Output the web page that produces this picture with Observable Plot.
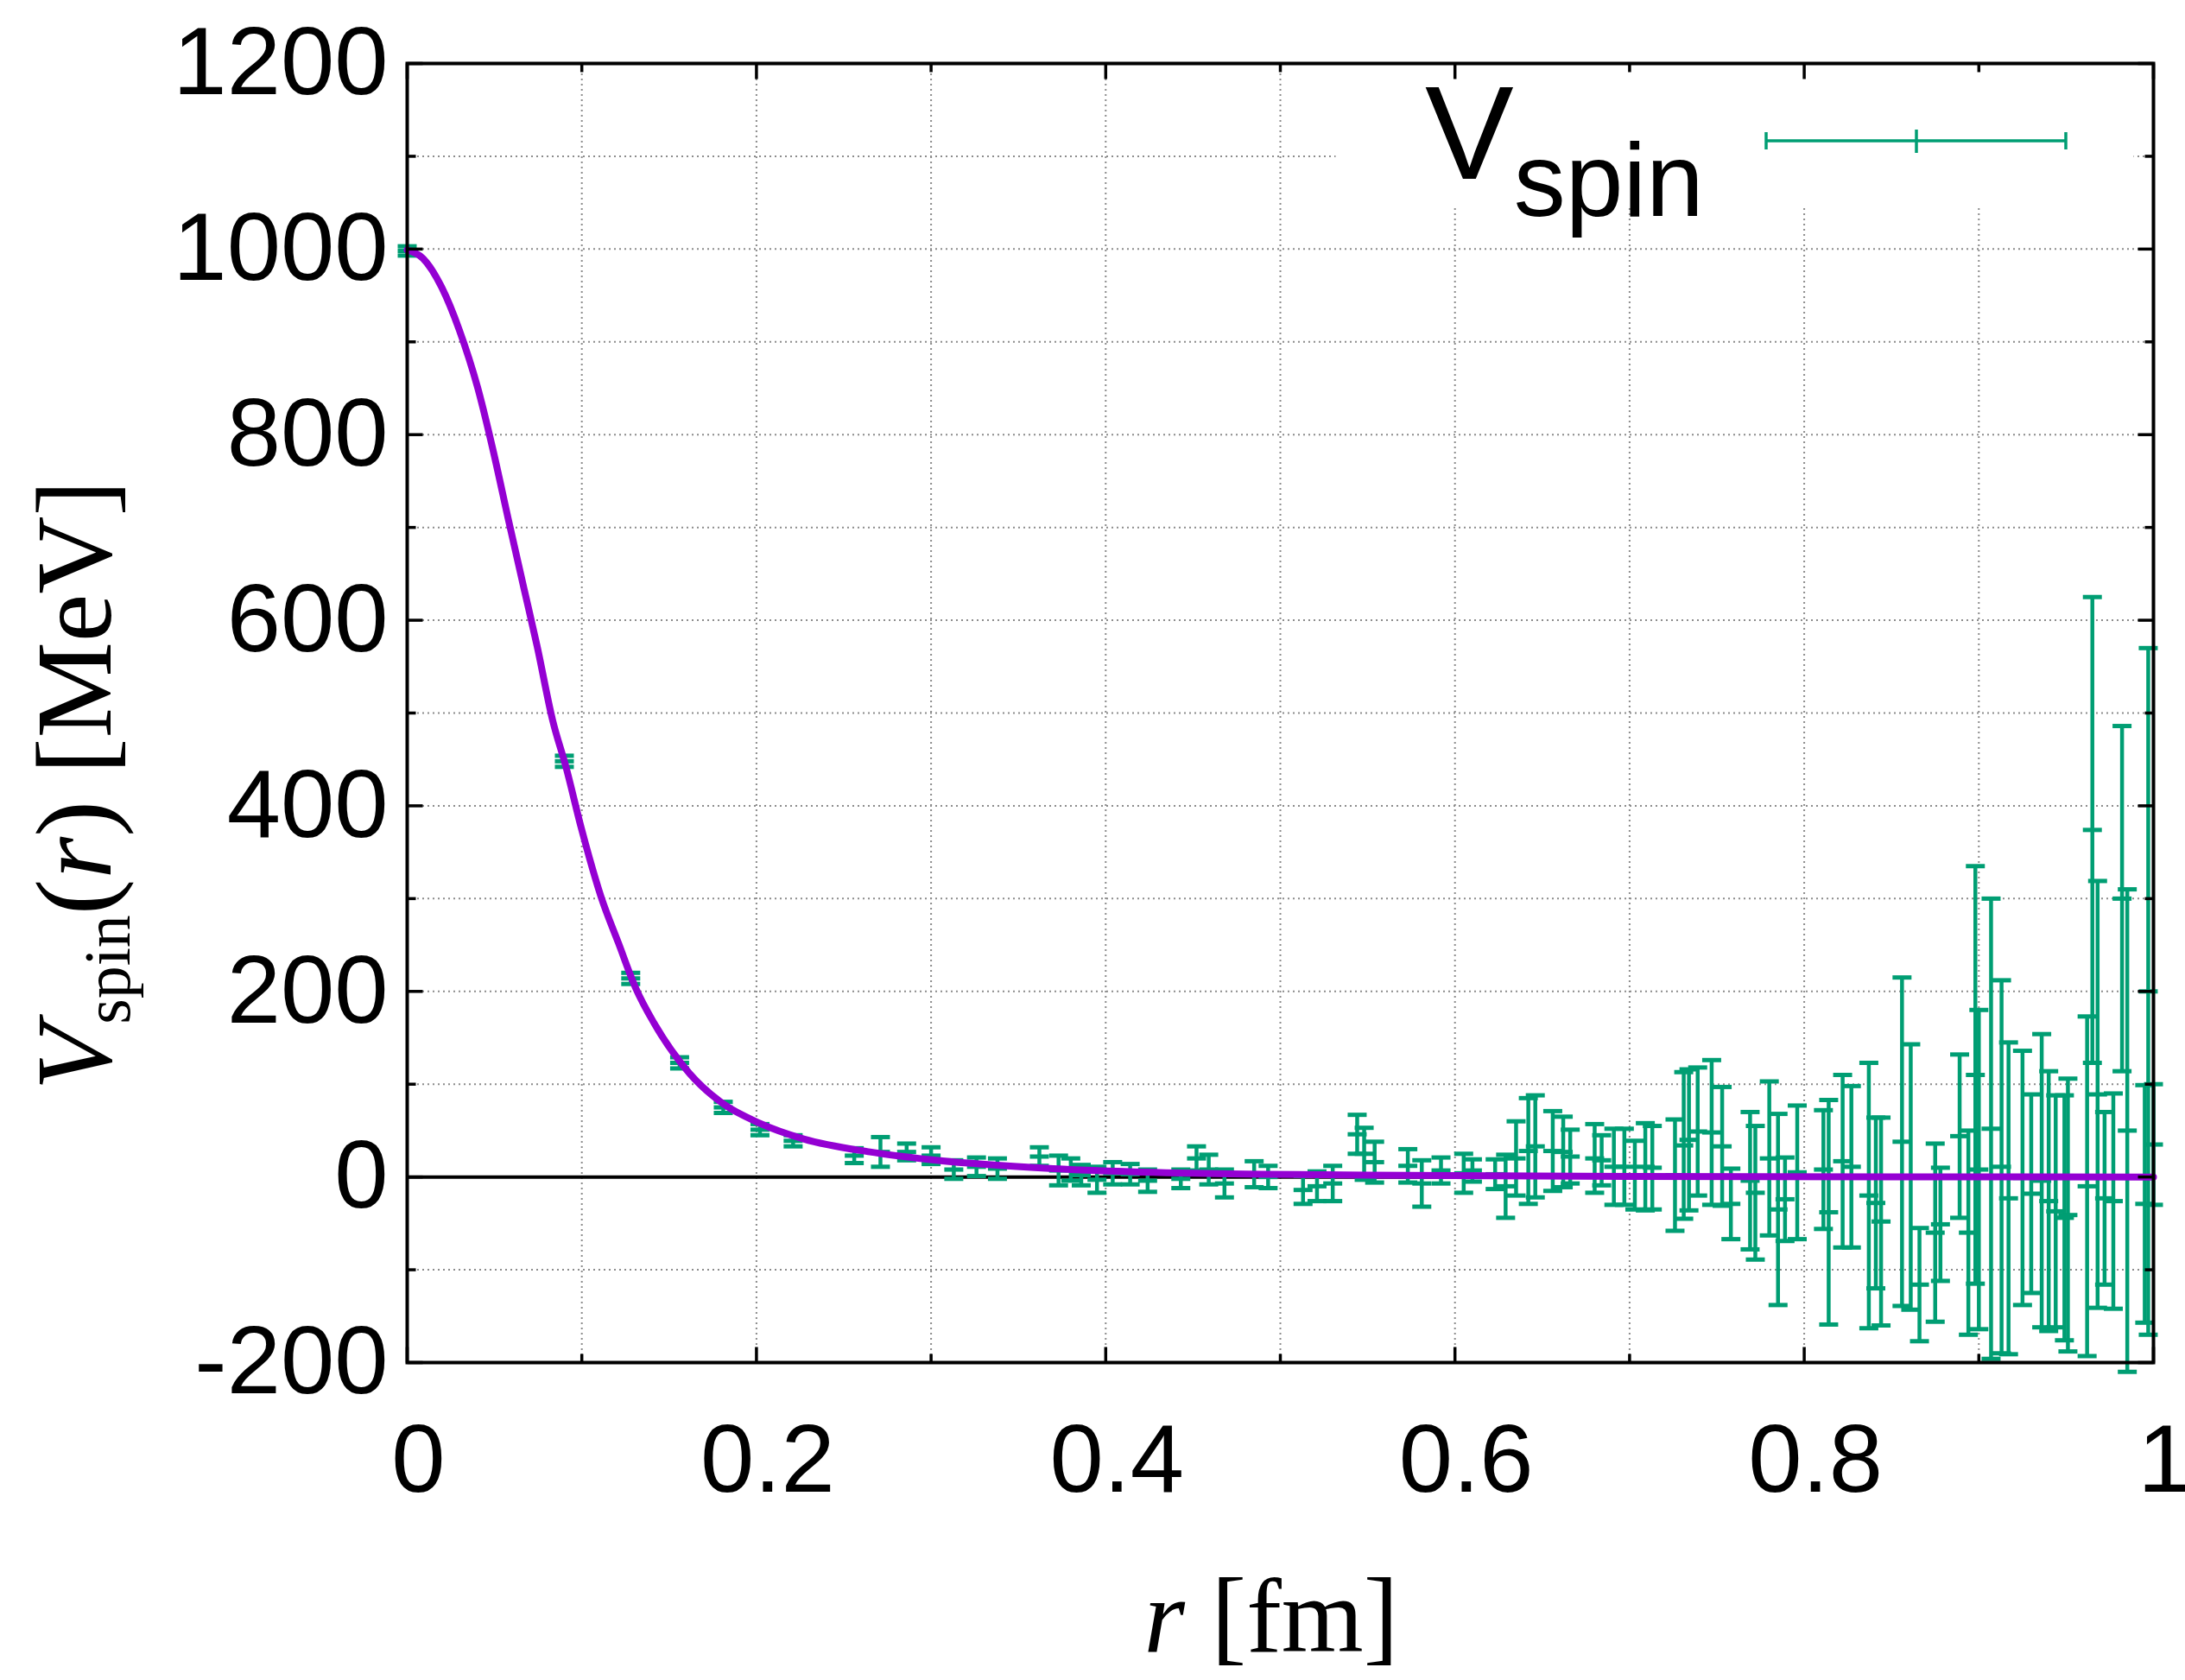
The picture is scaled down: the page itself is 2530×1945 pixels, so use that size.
<!DOCTYPE html>
<html>
<head>
<meta charset="utf-8">
<script src="https://cdn.jsdelivr.net/npm/d3@7"></script>
<script src="https://cdn.jsdelivr.net/npm/@observablehq/plot@0.6"></script>
<style>
  html, body { margin: 0; padding: 0; background: white; overflow: hidden; }
  #wrap { position: relative; width: 2530px; height: 1945px; }
</style>
</head>
<body>
<div id="wrap"></div>
<script>
// ---- data ----
const rVals = [0.000,0.090,0.128,0.156,0.181,0.202,0.221,0.256,0.271,0.286,0.300,0.313,0.326,0.338,0.362,0.373,0.380,0.386,0.395,0.404,0.414,0.424,0.443,0.452,0.459,0.468,0.485,0.493,0.513,0.521,0.530,0.544,0.548,0.554,0.573,0.581,0.592,0.605,0.610,0.623,0.629,0.635,0.642,0.646,0.656,0.662,0.666,0.680,0.684,0.691,0.697,0.703,0.709,0.713,0.726,0.731,0.734,0.739,0.747,0.753,0.758,0.769,0.772,0.780,0.785,0.789,0.796,0.811,0.814,0.822,0.827,0.837,0.841,0.844,0.856,0.861,0.866,0.875,0.878,0.889,0.894,0.898,0.900,0.907,0.913,0.917,0.925,0.930,0.936,0.940,0.944,0.949,0.951,0.962,0.965,0.968,0.972,0.977,0.982,0.985,0.995,0.997,1.000];
const vVals = [998,448,214,123,75,51,39,23,27,27,23,8,11,9,22,7,8,2,-3,4,3,-4,-2,20,8,-7,3,0,-14,-10,-7,46,25,16,12,-7,7,4,7,3,-10,20,28,33,28,27,22,20,18,11,11,2,11,10,2,34,40,49,48,33,-29,-4,-17,20,-35,-24,5,8,-38,17,11,-20,-28,-48,38,0,-116,-60,-51,44,-60,110,8,52,11,-23,-1,-18,-4,-26,-37,-44,-41,-10,374,89,-23,-26,300,50,-29,200,35];
const eVals = [5,6,6,6,6,6,6,8,16,9,9,10,10,11,10,16,12,11,14,12,11,12,10,13,16,15,14,12,15,16,19,21,28,22,18,25,14,21,12,16,34,40,57,55,43,38,29,37,27,41,41,37,47,45,60,79,76,69,78,64,38,74,72,83,103,45,72,64,121,93,87,143,92,112,177,143,61,96,61,88,110,225,172,248,201,168,137,107,158,140,125,132,147,183,251,230,93,116,186,260,128,370,65];

const curveR = [0,0.009,0.0197,0.0298,0.0403,0.0492,0.058,0.0669,0.0744,0.0833,0.0909,0.0997,0.111,0.121,0.131,0.1413,0.1615,0.1816,0.2018,0.227,0.265,0.303,0.37,0.45,0.55,0.7,0.85,1.0];
const curveV = [999,990,959,913,851,783,708,634,572,492,442,376,302,252,203,166,112,78,58,41,27,18,9,4,2,0.5,0.1,0];

const xTicks = [0,0.2,0.4,0.6,0.8,1];
const xTickLabels = ["0","0.2","0.4","0.6","0.8","1"];
const xMinor = [0.1,0.3,0.5,0.7,0.9];
const xGrid = [0.1,0.2,0.3,0.4,0.5,0.6,0.7,0.8,0.9];
const yTicks = [-200,0,200,400,600,800,1000,1200];
const yTickLabels = ["-200","0","200","400","600","800","1000","1200"];
const yMinor = [-100,100,300,500,700,900,1100];
const yGrid = [-100,0,100,200,300,400,500,600,700,800,900,1000,1100];

const seriesName = "V";
const seriesSub = "spin";

// ---- tables built from the arrays ----
const points = rVals.map((r, i) => ({r, v: vVals[i], e: eVals[i]}));
const curve = curveR.map((r, i) => ({r, v: curveV[i]}));

const green = "#009e73";
const purple = "#9400d3";

const hSym = {draw(ctx, size) { const l = Math.sqrt(size / Math.PI); ctx.moveTo(-l, 0); ctx.lineTo(l, 0); }};
const vSym = {draw(ctx, size) { const l = Math.sqrt(size / Math.PI); ctx.moveTo(0, -l); ctx.lineTo(0, l); }};

const gridStyle = {stroke: "#8c8c8c", strokeOpacity: 1, strokeWidth: 2, strokeDasharray: "2,4"};
const tickStyle = {fill: "none", stroke: "black", strokeWidth: 3.5};

const chart = Plot.plot({
  width: 2530,
  height: 1945,
  marginLeft: 471,
  marginRight: 37,
  marginTop: 73,
  marginBottom: 368,
  style: {background: "white", color: "black", fontFamily: "'Liberation Sans', Arial, Helvetica, sans-serif", fontSize: "112px"},
  x: {domain: [0, 1]},
  y: {domain: [-200, 1200]},
  marks: [
    Plot.gridX({ticks: xGrid, ...gridStyle}),
    Plot.gridY({ticks: yGrid, ...gridStyle}),
    Plot.frame({fill: "white", stroke: "none", insetLeft: 1075, insetRight: 23, insetBottom: 1340}),
    Plot.ruleY([0], {stroke: "black", strokeWidth: 4}),
    // error bars
    Plot.ruleX(points, {x: "r", y1: d => d.v - d.e, y2: d => d.v + d.e, stroke: green, strokeWidth: 4.5}),
    Plot.dot(points, {x: "r", y: d => d.v + d.e, symbol: hSym, r: 11, fill: "none", stroke: green, strokeWidth: 5}),
    Plot.dot(points, {x: "r", y: d => d.v - d.e, symbol: hSym, r: 11, fill: "none", stroke: green, strokeWidth: 5}),
    Plot.dot(points, {x: "r", y: "v", symbol: hSym, r: 11, fill: "none", stroke: green, strokeWidth: 5}),
    // fit curve
    Plot.line(curve, {x: "r", y: "v", stroke: purple, strokeWidth: 8, curve: "monotone-x"}),
    // frame and inward ticks
    Plot.frame({stroke: "black", strokeWidth: 4}),
    Plot.dot(yTicks, {y: d => d, frameAnchor: "left", symbol: hSym, r: 9, dx: 9, ...tickStyle}),
    Plot.dot(yTicks, {y: d => d, frameAnchor: "right", symbol: hSym, r: 9, dx: -9, ...tickStyle}),
    Plot.dot(yMinor, {y: d => d, frameAnchor: "left", symbol: hSym, r: 5, dx: 5, ...tickStyle}),
    Plot.dot(yMinor, {y: d => d, frameAnchor: "right", symbol: hSym, r: 5, dx: -5, ...tickStyle}),
    Plot.dot(xTicks, {x: d => d, frameAnchor: "bottom", symbol: vSym, r: 9, dy: -9, ...tickStyle}),
    Plot.dot(xTicks, {x: d => d, frameAnchor: "top", symbol: vSym, r: 9, dy: 9, ...tickStyle}),
    Plot.dot(xMinor, {x: d => d, frameAnchor: "bottom", symbol: vSym, r: 5, dy: -5, ...tickStyle}),
    Plot.dot(xMinor, {x: d => d, frameAnchor: "top", symbol: vSym, r: 5, dy: 5, ...tickStyle}),
    // tick labels
    Plot.axisY({ticks: yTicks, tickSize: 0, tickPadding: 22, label: null, fontSize: 112,
      tickFormat: d => yTickLabels[yTicks.indexOf(d)]}),
    Plot.axisX({ticks: xTicks, tickSize: 0, tickPadding: 70, label: null, fontSize: 112, dx: 13,
      tickFormat: d => xTickLabels[xTicks.indexOf(d)]})
  ]
});

const wrap = document.getElementById("wrap");
wrap.appendChild(chart);

// axis titles and key (text overlay)
const ns = "http://www.w3.org/2000/svg";
const overlay = document.createElementNS(ns, "svg");
overlay.setAttribute("width", 2530);
overlay.setAttribute("height", 1945);
overlay.setAttribute("style", "position:absolute;left:0;top:0;pointer-events:none");
overlay.innerHTML = `
  <g font-family="'Liberation Serif','Times New Roman',serif" fill="black">
    <text transform="translate(128,909) rotate(-90)" text-anchor="middle" font-size="125"><tspan font-style="italic">V</tspan><tspan font-size="76" dy="22">spin</tspan><tspan dy="-22">(</tspan><tspan font-style="italic">r</tspan><tspan>) [MeV]</tspan></text>
    <text x="1472" y="1912" text-anchor="middle" font-size="122"><tspan font-style="italic">r</tspan> [fm]</text>
  </g>
  <g font-family="'Liberation Sans',Arial,Helvetica,sans-serif" fill="black">
    <text x="1650" y="207" font-size="154">${seriesName}<tspan font-size="120" dy="43">${seriesSub}</tspan></text>
  </g>
  <g stroke="${green}" stroke-width="3.5" fill="none">
    <line x1="2045" y1="163" x2="2392" y2="163"/>
    <line x1="2045" y1="153" x2="2045" y2="173"/>
    <line x1="2392" y1="153" x2="2392" y2="173"/>
    <line x1="2219" y1="150" x2="2219" y2="177"/>
  </g>`;
wrap.appendChild(overlay);
</script>
</body>
</html>
